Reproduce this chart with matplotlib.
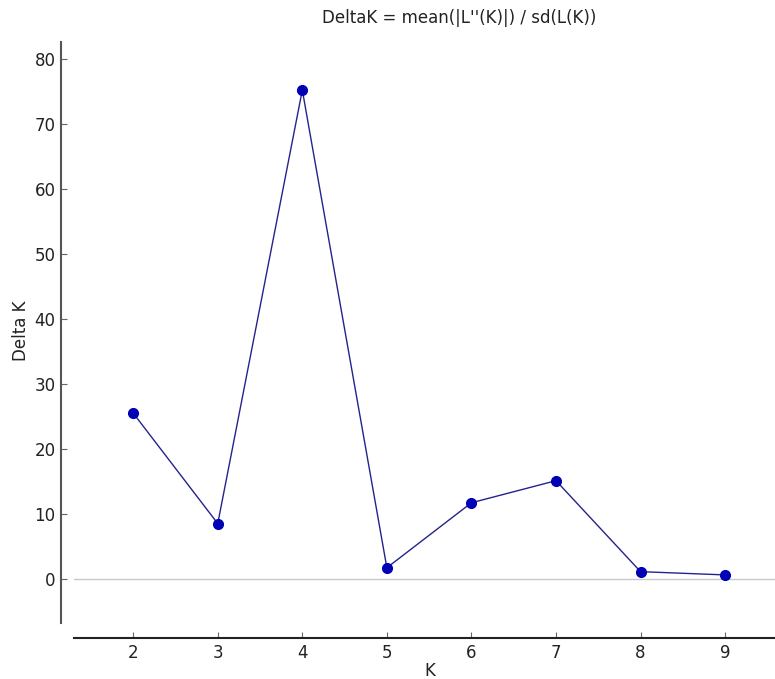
import matplotlib
matplotlib.use("Agg")
import matplotlib.pyplot as plt

plt.rcParams["font.family"] = ["DejaVu Sans"]

K = [2, 3, 4, 5, 6, 7, 8, 9]
delta_k = [25.5, 8.5, 75.2, 1.7, 11.7, 15.1, 1.1, 0.6]
yticks = [0, 10, 20, 30, 40, 50, 60, 70, 80]

W, H = 775, 679
fig = plt.figure(figsize=(W / 100, H / 100), dpi=100)
ax = fig.add_axes([74 / W, 1 - 623 / H, (775 - 74) / W, (623 - 42) / H])

ax.axhline(0, color="#c8c8c8", lw=1, zorder=1)
ax.plot(K, delta_k, color="#23238c", lw=1.0, marker="o", ms=7,
        mfc="#0000b4", mec="#0000b4", zorder=3)

ax.set_xlim(1.30, 9.59)
ax.set_ylim(-6.8, 82.6)
ax.set_xticks(K)
ax.set_yticks(yticks)

for s in ["top", "right"]:
    ax.spines[s].set_visible(False)
ax.spines["left"].set_position(("outward", 13 * 0.72))
ax.spines["bottom"].set_position(("outward", 15 * 0.72))
ax.spines["left"].set_linewidth(1.5)
ax.spines["left"].set_color("#555555")
ax.spines["bottom"].set_linewidth(1.5)
ax.spines["bottom"].set_color("#222222")

ax.tick_params(direction="in", length=4, width=0.8, color="#666666",
               labelsize=12, labelcolor="#222222")
ax.tick_params(axis="y", pad=4)
ax.tick_params(axis="x", pad=4)

fig.text(21 / W, 1 - 331 / H, "Delta K", rotation=90, ha="center",
         va="center", fontsize=12, color="#222222")
fig.text(430 / W, 1 - 671 / H, "K", ha="center", va="center",
         fontsize=12, color="#222222")
fig.text(459 / W, 1 - 18 / H, "DeltaK = mean(|L''(K)|) / sd(L(K))",
         ha="center", va="center", fontsize=12, color="#222222")

fig.savefig("out.png", dpi=100)
